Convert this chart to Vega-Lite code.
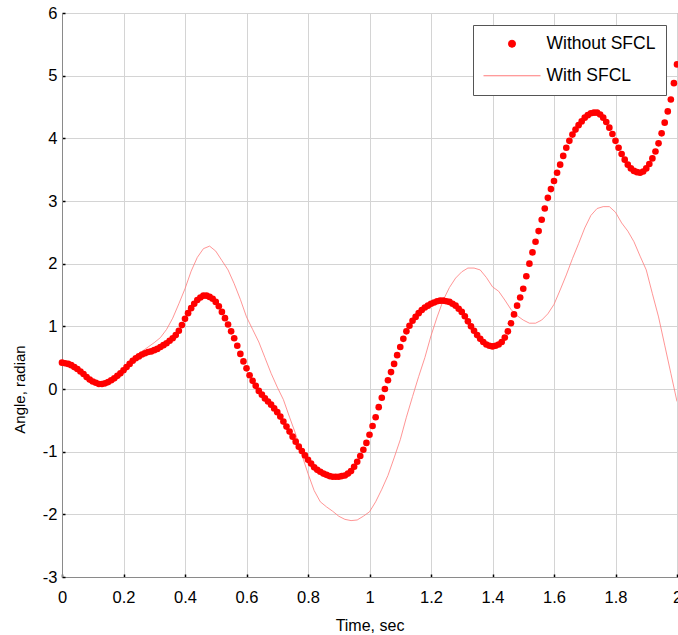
{
  "$schema": "https://vega.github.io/schema/vega-lite/v6.json",
  "width": 615,
  "height": 564,
  "autosize": {"type": "none"},
  "padding": {"left": 62, "top": 13, "right": 1, "bottom": 58},
  "background": "white",
  "config": {
    "font": "Liberation Sans",
    "view": {"stroke": "#8a8a8a", "strokeWidth": 1},
    "axis": {
      "labelFont": "Liberation Sans",
      "titleFont": "Liberation Sans",
      "labelColor": "#000000",
      "titleColor": "#000000",
      "titleFontWeight": "normal",
      "domainColor": "#8a8a8a",
      "gridColor": "#d4d4d4",
      "gridWidth": 1,
      "tickColor": "#000000",
      "tickSize": -3,
      "tickWidth": 1.5,
      "labelFlush": false
    }
  },
  "datasets": {
    "without": [
      {"t":0.00,"v":0.42},{"t":0.01,"v":0.41},{"t":0.02,"v":0.40},{"t":0.03,"v":0.38},{"t":0.04,"v":0.35},{"t":0.05,"v":0.32},{"t":0.06,"v":0.28},{"t":0.07,"v":0.24},{"t":0.08,"v":0.19},{"t":0.09,"v":0.15},
      {"t":0.10,"v":0.12},{"t":0.11,"v":0.10},{"t":0.12,"v":0.08},{"t":0.13,"v":0.08},{"t":0.14,"v":0.09},{"t":0.15,"v":0.11},{"t":0.16,"v":0.14},{"t":0.17,"v":0.17},{"t":0.18,"v":0.21},{"t":0.19,"v":0.25},
      {"t":0.20,"v":0.30},{"t":0.21,"v":0.35},{"t":0.22,"v":0.40},{"t":0.23,"v":0.45},{"t":0.24,"v":0.49},{"t":0.25,"v":0.52},{"t":0.26,"v":0.55},{"t":0.27,"v":0.57},{"t":0.28,"v":0.59},{"t":0.29,"v":0.60},
      {"t":0.30,"v":0.62},{"t":0.31,"v":0.64},{"t":0.32,"v":0.67},{"t":0.33,"v":0.70},{"t":0.34,"v":0.73},{"t":0.35,"v":0.77},{"t":0.36,"v":0.81},{"t":0.37,"v":0.86},{"t":0.38,"v":0.93},{"t":0.39,"v":1.02},
      {"t":0.40,"v":1.12},{"t":0.41,"v":1.21},{"t":0.42,"v":1.29},{"t":0.43,"v":1.36},{"t":0.44,"v":1.42},{"t":0.45,"v":1.46},{"t":0.46,"v":1.49},{"t":0.47,"v":1.49},{"t":0.48,"v":1.47},{"t":0.49,"v":1.44},
      {"t":0.50,"v":1.39},{"t":0.51,"v":1.32},{"t":0.52,"v":1.23},{"t":0.53,"v":1.13},{"t":0.54,"v":1.03},{"t":0.55,"v":0.92},{"t":0.56,"v":0.81},{"t":0.57,"v":0.69},{"t":0.58,"v":0.56},{"t":0.59,"v":0.44},
      {"t":0.60,"v":0.33},{"t":0.61,"v":0.22},{"t":0.62,"v":0.13},{"t":0.63,"v":0.05},{"t":0.64,"v":-0.03},{"t":0.65,"v":-0.09},{"t":0.66,"v":-0.15},{"t":0.67,"v":-0.20},{"t":0.68,"v":-0.25},{"t":0.69,"v":-0.31},
      {"t":0.70,"v":-0.37},{"t":0.71,"v":-0.44},{"t":0.72,"v":-0.52},{"t":0.73,"v":-0.60},{"t":0.74,"v":-0.68},{"t":0.75,"v":-0.76},{"t":0.76,"v":-0.84},{"t":0.77,"v":-0.92},{"t":0.78,"v":-0.99},{"t":0.79,"v":-1.06},
      {"t":0.80,"v":-1.13},{"t":0.81,"v":-1.19},{"t":0.82,"v":-1.25},{"t":0.83,"v":-1.29},{"t":0.84,"v":-1.32},{"t":0.85,"v":-1.35},{"t":0.86,"v":-1.37},{"t":0.87,"v":-1.39},{"t":0.88,"v":-1.40},{"t":0.89,"v":-1.40},
      {"t":0.90,"v":-1.40},{"t":0.91,"v":-1.39},{"t":0.92,"v":-1.38},{"t":0.93,"v":-1.35},{"t":0.94,"v":-1.31},{"t":0.95,"v":-1.24},{"t":0.96,"v":-1.16},{"t":0.97,"v":-1.07},{"t":0.98,"v":-0.97},{"t":0.99,"v":-0.86},
      {"t":1.00,"v":-0.73},{"t":1.01,"v":-0.59},{"t":1.02,"v":-0.45},{"t":1.03,"v":-0.29},{"t":1.04,"v":-0.14},{"t":1.05,"v":0.00},{"t":1.06,"v":0.14},{"t":1.07,"v":0.27},{"t":1.08,"v":0.40},{"t":1.09,"v":0.54},
      {"t":1.10,"v":0.67},{"t":1.11,"v":0.80},{"t":1.12,"v":0.92},{"t":1.13,"v":1.01},{"t":1.14,"v":1.09},{"t":1.15,"v":1.15},{"t":1.16,"v":1.21},{"t":1.17,"v":1.26},{"t":1.18,"v":1.30},{"t":1.19,"v":1.33},
      {"t":1.20,"v":1.36},{"t":1.21,"v":1.38},{"t":1.22,"v":1.40},{"t":1.23,"v":1.41},{"t":1.24,"v":1.41},{"t":1.25,"v":1.40},{"t":1.26,"v":1.39},{"t":1.27,"v":1.36},{"t":1.28,"v":1.33},{"t":1.29,"v":1.28},
      {"t":1.30,"v":1.23},{"t":1.31,"v":1.16},{"t":1.32,"v":1.08},{"t":1.33,"v":1.00},{"t":1.34,"v":0.93},{"t":1.35,"v":0.86},{"t":1.36,"v":0.80},{"t":1.37,"v":0.75},{"t":1.38,"v":0.71},{"t":1.39,"v":0.69},
      {"t":1.40,"v":0.68},{"t":1.41,"v":0.69},{"t":1.42,"v":0.71},{"t":1.43,"v":0.75},{"t":1.44,"v":0.82},{"t":1.45,"v":0.92},{"t":1.46,"v":1.05},{"t":1.47,"v":1.19},{"t":1.48,"v":1.33},{"t":1.49,"v":1.46},
      {"t":1.50,"v":1.60},{"t":1.51,"v":1.80},{"t":1.52,"v":2.00},{"t":1.53,"v":2.18},{"t":1.54,"v":2.35},{"t":1.55,"v":2.52},{"t":1.56,"v":2.70},{"t":1.57,"v":2.88},{"t":1.58,"v":3.05},{"t":1.59,"v":3.19},
      {"t":1.60,"v":3.32},{"t":1.61,"v":3.45},{"t":1.62,"v":3.58},{"t":1.63,"v":3.72},{"t":1.64,"v":3.85},{"t":1.65,"v":3.96},{"t":1.66,"v":4.06},{"t":1.67,"v":4.14},{"t":1.68,"v":4.21},{"t":1.69,"v":4.27},
      {"t":1.70,"v":4.33},{"t":1.71,"v":4.37},{"t":1.72,"v":4.40},{"t":1.73,"v":4.41},{"t":1.74,"v":4.41},{"t":1.75,"v":4.38},{"t":1.76,"v":4.33},{"t":1.77,"v":4.26},{"t":1.78,"v":4.17},{"t":1.79,"v":4.07},
      {"t":1.80,"v":3.96},{"t":1.81,"v":3.85},{"t":1.82,"v":3.75},{"t":1.83,"v":3.66},{"t":1.84,"v":3.58},{"t":1.85,"v":3.52},{"t":1.86,"v":3.48},{"t":1.87,"v":3.46},{"t":1.88,"v":3.45},{"t":1.89,"v":3.47},
      {"t":1.90,"v":3.52},{"t":1.91,"v":3.59},{"t":1.92,"v":3.68},{"t":1.93,"v":3.79},{"t":1.94,"v":3.92},{"t":1.95,"v":4.08},{"t":1.96,"v":4.25},{"t":1.97,"v":4.43},{"t":1.98,"v":4.62},{"t":1.99,"v":4.88},
      {"t":2.00,"v":5.18}
    ],
    "with": [
      {"t":0.00,"v":0.42},{"t":0.02,"v":0.40},{"t":0.04,"v":0.35},{"t":0.06,"v":0.28},{"t":0.08,"v":0.19},{"t":0.10,"v":0.12},{"t":0.12,"v":0.08},{"t":0.14,"v":0.09},{"t":0.16,"v":0.14},{"t":0.18,"v":0.21},
      {"t":0.20,"v":0.30},{"t":0.22,"v":0.40},{"t":0.24,"v":0.50},{"t":0.26,"v":0.60},{"t":0.28,"v":0.67},{"t":0.30,"v":0.74},{"t":0.32,"v":0.82},{"t":0.34,"v":0.95},{"t":0.36,"v":1.13},{"t":0.38,"v":1.36},
      {"t":0.40,"v":1.60},{"t":0.42,"v":1.88},{"t":0.44,"v":2.10},{"t":0.46,"v":2.24},{"t":0.48,"v":2.28},{"t":0.50,"v":2.20},{"t":0.52,"v":2.05},{"t":0.54,"v":1.90},{"t":0.56,"v":1.68},{"t":0.58,"v":1.43},
      {"t":0.60,"v":1.15},{"t":0.62,"v":0.95},{"t":0.64,"v":0.75},{"t":0.66,"v":0.50},{"t":0.68,"v":0.25},{"t":0.70,"v":0.03},{"t":0.72,"v":-0.17},{"t":0.74,"v":-0.45},{"t":0.76,"v":-0.72},{"t":0.78,"v":-1.05},
      {"t":0.80,"v":-1.35},{"t":0.82,"v":-1.62},{"t":0.84,"v":-1.80},{"t":0.86,"v":-1.88},{"t":0.88,"v":-1.95},{"t":0.90,"v":-2.03},{"t":0.92,"v":-2.08},{"t":0.94,"v":-2.10},{"t":0.96,"v":-2.09},{"t":0.98,"v":-2.03},
      {"t":1.00,"v":-1.96},{"t":1.02,"v":-1.80},{"t":1.04,"v":-1.60},{"t":1.06,"v":-1.38},{"t":1.08,"v":-1.10},{"t":1.10,"v":-0.81},{"t":1.12,"v":-0.45},{"t":1.14,"v":-0.12},{"t":1.16,"v":0.20},{"t":1.18,"v":0.50},
      {"t":1.20,"v":0.85},{"t":1.22,"v":1.15},{"t":1.24,"v":1.42},{"t":1.26,"v":1.62},{"t":1.28,"v":1.77},{"t":1.30,"v":1.87},{"t":1.32,"v":1.93},{"t":1.34,"v":1.93},{"t":1.36,"v":1.90},{"t":1.38,"v":1.78},
      {"t":1.40,"v":1.63},{"t":1.42,"v":1.56},{"t":1.44,"v":1.42},{"t":1.46,"v":1.27},{"t":1.48,"v":1.17},{"t":1.50,"v":1.10},{"t":1.52,"v":1.05},{"t":1.54,"v":1.05},{"t":1.56,"v":1.10},{"t":1.58,"v":1.20},
      {"t":1.60,"v":1.35},{"t":1.62,"v":1.58},{"t":1.64,"v":1.82},{"t":1.66,"v":2.08},{"t":1.68,"v":2.32},{"t":1.70,"v":2.57},{"t":1.72,"v":2.77},{"t":1.74,"v":2.88},{"t":1.76,"v":2.91},{"t":1.78,"v":2.91},
      {"t":1.80,"v":2.82},{"t":1.82,"v":2.65},{"t":1.84,"v":2.52},{"t":1.86,"v":2.35},{"t":1.88,"v":2.12},{"t":1.90,"v":1.90},{"t":1.92,"v":1.52},{"t":1.94,"v":1.15},{"t":1.96,"v":0.70},{"t":1.98,"v":0.25},
      {"t":2.00,"v":-0.20}
    ]
  },
  "layer": [
    {
      "data": {"name": "with"},
      "mark": {"type": "line", "strokeWidth": 0.8, "clip": true},
      "encoding": {
        "x": {
          "field": "t", "type": "quantitative",
          "scale": {"domain": [0, 2], "nice": false},
          "axis": {
            "values": [0, 0.2, 0.4, 0.6, 0.8, 1, 1.2, 1.4, 1.6, 1.8, 2],
            "format": "~g",
            "title": "Time, sec",
            "titleFontSize": 16,
            "labelFontSize": 16.5,
            "labelPadding": 15,
            "titleY": 53,
            "titleBaseline": "alphabetic",
            "grid": true
          }
        },
        "y": {
          "field": "v", "type": "quantitative",
          "scale": {"domain": [-3, 6], "nice": false},
          "axis": {
            "values": [-3, -2, -1, 0, 1, 2, 3, 4, 5, 6],
            "labelExpr": "'' + datum.value",
            "title": "Angle, radian",
            "titleFontSize": 15,
            "labelFontSize": 16.5,
            "labelPadding": 8,
            "titleX": -38,
            "titleY": 376,
            "titleBaseline": "alphabetic",
            "grid": true
          }
        },
        "color": {
          "datum": "With SFCL",
          "type": "nominal",
          "scale": {"domain": ["Without SFCL", "With SFCL"], "range": ["#ff0000", "#ff7a7a"]},
          "legend": {
            "orient": "none",
            "legendX": 411,
            "legendY": 12,
            "title": null,
            "fillColor": "white",
            "strokeColor": "#555555",
            "padding": 10,
            "labelFont": "Liberation Sans",
            "labelFontSize": 17.5,
            "labelColor": "#000000",
            "labelLimit": 0,
            "labelOffset": 46,
            "symbolSize": 50,
            "rowPadding": 13,
            "encode": {
              "symbols": {
                "update": {
                  "shape": {"signal": "datum.value === 'With SFCL' ? 'stroke' : 'circle'"},
                  "size": {"signal": "datum.value === 'With SFCL' ? 3249 : 50"},
                  "fill": {"signal": "datum.value === 'With SFCL' ? 'transparent' : '#ff0000'"},
                  "stroke": {"signal": "datum.value === 'With SFCL' ? '#ff7a7a' : 'transparent'"},
                  "strokeWidth": {"value": 1},
                  "opacity": {"value": 1},
                  "x": {"value": 29}
                }
              }
            }
          }
        }
      }
    },
    {
      "data": {"name": "without"},
      "mark": {"type": "point", "filled": true, "size": 44, "opacity": 1, "clip": false},
      "encoding": {
        "x": {"field": "t", "type": "quantitative"},
        "y": {"field": "v", "type": "quantitative"},
        "color": {"datum": "Without SFCL", "type": "nominal"}
      }
    }
  ]
}
